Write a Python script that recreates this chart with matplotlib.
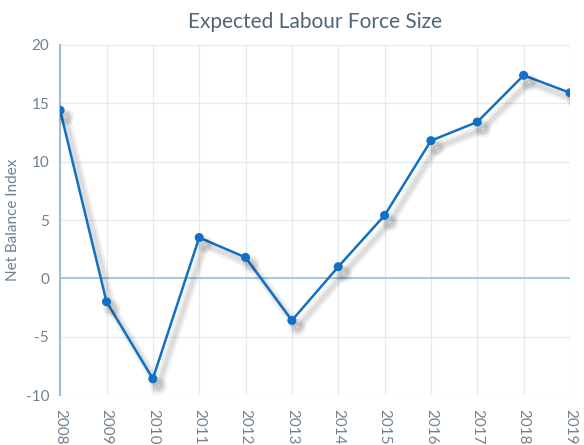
import matplotlib
matplotlib.use('Agg')
from matplotlib import pyplot as plt
import matplotlib.patheffects as pe

years = ['2008', '2009', '2010', '2011', '2012', '2013', '2014', '2015', '2016', '2017', '2018', '2019']
values = [14.4, -2.0, -8.6, 3.5, 1.8, -3.6, 1.0, 5.4, 11.8, 13.4, 17.4, 15.9]
yticks = [-10, -5, 0, 5, 10, 15, 20]

plt.rcParams['font.family'] = ['Lato', 'DejaVu Sans']

fig = plt.figure(figsize=(5.84, 4.45), dpi=100)
ax = fig.add_axes([0.103, 0.112, 0.873, 0.787])

x = list(range(len(years)))
# soft drop shadow under the line
fx = [pe.SimpleLineShadow(offset=(4, -5), shadow_color='#000000', alpha=0.06, linewidth=7),
      pe.SimpleLineShadow(offset=(4, -5), shadow_color='#000000', alpha=0.08, linewidth=3.5),
      pe.Normal()]
ax.plot(x, values, color='#1170c4', lw=1.8, marker='o', ms=5.5, zorder=5, path_effects=fx)

ax.set_xlim(0, len(years) - 1)
ax.set_ylim(-10, 20)
ax.set_yticks(yticks)
ax.set_yticklabels([str(v) for v in yticks])
ax.set_xticks(x)
ax.set_xticklabels(years, rotation=270, va='top', ha='center')

ax.grid(True, color='#e2ebf2', lw=1)
ax.set_axisbelow(True)
ax.axhline(0, color='#9bbfd6', lw=1.2, zorder=2)
for s in ['top', 'right', 'bottom']:
    ax.spines[s].set_visible(False)
ax.spines['left'].set_color('#9bbfd6')
ax.spines['left'].set_linewidth(1.5)
ax.tick_params(length=0, colors='#6f8190', labelsize=11, pad=8)
ax.tick_params(axis='x', pad=10)

ax.set_ylabel('Net Balance Index', color='#6f8190', fontsize=11)
ax.set_title('Expected Labour Force Size', color='#4e6677', fontsize=15, pad=12)

fig.savefig('out.png', dpi=100)
